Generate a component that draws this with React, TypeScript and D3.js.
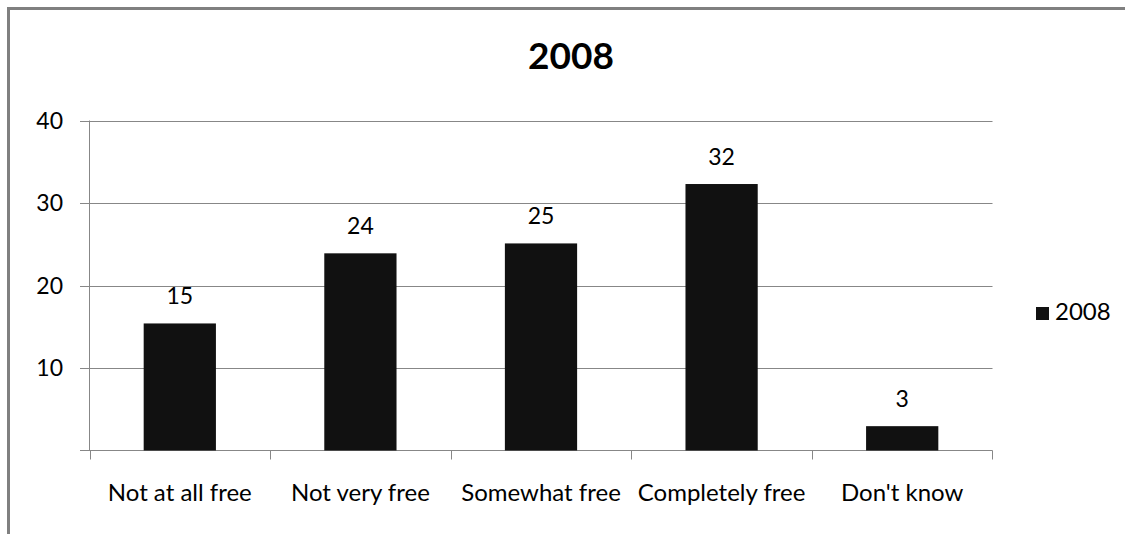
import React from "react";
import * as d3 from "d3";

const categories = ["Not at all free", "Not very free", "Somewhat free", "Completely free", "Don't know"];
const values2008 = [15.4, 23.9, 25.1, 32.3, 2.95];
const valueLabels = ["15", "24", "25", "32", "3"];
const yTicks = [10, 20, 30, 40];
const seriesName = "2008";
const title = "2008";

const W = 1125;
const H = 534;
const FONT = "Lato, 'Open Sans', sans-serif";

export default function App() {
  const plotLeft = 89.5;
  const plotRight = 992.5;
  const plotTop = 120.5;
  const plotBottom = 450.5;

  const x = d3.scaleBand<string>().domain(categories).range([plotLeft, plotRight]).paddingInner(0).paddingOuter(0);
  const y = d3.scaleLinear().domain([0, 40]).range([plotBottom, plotTop]);
  const bw = x.bandwidth() * 0.4;
  const gridColor = "#878787";

  return (
    <svg width={W} height={H} style={{ position: "absolute", left: 0, top: 0, background: "#fff" }}>
      <rect x={0} y={0} width={W} height={H} fill="#fff" />
      {/* outer frame */}
      <path d={`M8.5,${H} L8.5,8.5 L${W},8.5`} fill="none" stroke="#808080" strokeWidth={3} />
      {/* title */}
      <text x={571} y={69} textAnchor="middle" fontFamily={FONT} fontWeight="bold" fontSize={37} fill="#000">
        {title}
      </text>
      {/* gridlines + y ticks */}
      {yTicks.map((t) => (
        <g key={t}>
          <line x1={80} x2={plotRight} y1={Math.round(y(t)) + 0.5} y2={Math.round(y(t)) + 0.5} stroke={gridColor} strokeWidth={1} />
          <text x={63} y={y(t)} dy="0.35em" textAnchor="end" fontFamily={FONT} fontSize={23} fill="#000">
            {t}
          </text>
        </g>
      ))}
      {/* y axis */}
      <line x1={plotLeft} x2={plotLeft} y1={plotTop} y2={plotBottom} stroke={gridColor} strokeWidth={1} />
      {/* x axis */}
      <line x1={80} x2={plotRight} y1={plotBottom} y2={plotBottom} stroke={gridColor} strokeWidth={1} />
      {categories.map((c, i) => (
        <line key={"t" + i} x1={Math.round(x(c)!) + 0.5} x2={Math.round(x(c)!) + 0.5} y1={plotBottom} y2={plotBottom + 9} stroke={gridColor} strokeWidth={1} />
      ))}
      <line x1={plotRight} x2={plotRight} y1={plotBottom} y2={plotBottom + 9} stroke={gridColor} strokeWidth={1} />
      {/* bars */}
      {categories.map((c, i) => {
        const cx = x(c)! + x.bandwidth() / 2;
        return (
          <g key={c}>
            <rect x={cx - bw / 2} y={y(values2008[i])} width={bw} height={plotBottom - y(values2008[i])} fill="#111" />
            <text x={cx} y={y(values2008[i]) - 19} textAnchor="middle" fontFamily={FONT} fontSize={23} fill="#000">
              {valueLabels[i]}
            </text>
            <text x={cx} y={501} textAnchor="middle" fontFamily={FONT} fontSize={24} fill="#000">
              {c}
            </text>
          </g>
        );
      })}
      {/* legend */}
      <rect x={1036} y={307} width={13} height={13} fill="#111" />
      <text x={1055} y={320} fontFamily={FONT} fontSize={24} fill="#000">
        {seriesName}
      </text>
    </svg>
  );
}
